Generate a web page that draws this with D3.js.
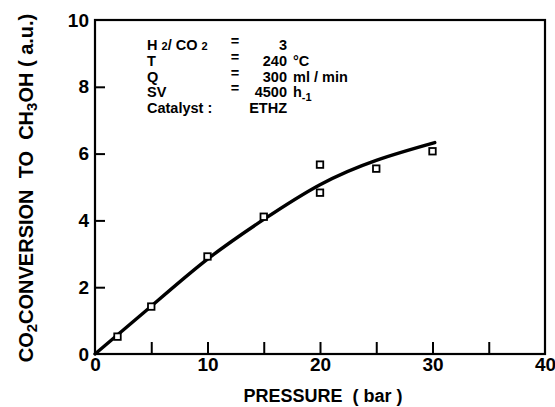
<!DOCTYPE html>
<html>
<head>
<meta charset="utf-8">
<script src="https://cdn.jsdelivr.net/npm/d3@7"></script>
<style>
  html, body { margin: 0; padding: 0; background: #fff; }
  svg { display: block; }
  text { font-family: "Liberation Sans", Arial, Helvetica, sans-serif; font-weight: bold; fill: #000; }
</style>
</head>
<body>
<svg id="chart" width="555" height="407"></svg>
<script>
// Measured data points (pressure in bar, CO2 conversion to CH3OH in a.u.)
const pointPressure = [2, 5, 10, 15, 20, 20, 25, 30];
const pointConversion = [0.52, 1.42, 2.92, 4.11, 5.67, 4.83, 5.55, 6.07];

// Fitted trend curve
const curvePressure = [0, 5, 10, 15, 20, 25, 30.2];
const curveConversion = [0, 1.43, 2.84, 4.03, 5.07, 5.80, 6.33];

// Axis ticks
const xTicks = [0, 5, 10, 15, 20, 25, 30, 35, 40];
const xLabels = [0, 10, 20, 30, 40];
const yTicks = [0, 2, 4, 6, 8, 10];

// Conditions annotation
const condNames = ["T", "Q", "SV"];
const condValues = ["240", "300", "4500"];

(function () {
const svg = d3.select("#chart");
const pl = 95, pr = 545, pt = 20, pb = 354;

const x = d3.scaleLinear().domain([0, 40]).range([pl, pr]);
const y = d3.scaleLinear().domain([0, 10]).range([pb, pt]);

// Frame
svg.append("rect")
  .attr("x", pl).attr("y", pt)
  .attr("width", pr - pl).attr("height", pb - pt)
  .attr("fill", "none").attr("stroke", "#000").attr("stroke-width", 2.2);

// Bottom axis (inward ticks)
const xAxis = d3.axisBottom(x)
  .tickValues(xTicks)
  .tickSizeInner(-12).tickSizeOuter(0)
  .tickPadding(4)
  .tickFormat(d => xLabels.includes(d) ? d : "");
const gx = svg.append("g").attr("transform", `translate(0,${pb})`).call(xAxis);
gx.select(".domain").remove();
gx.selectAll(".tick line").attr("stroke", "#000").attr("stroke-width", 2)
  .attr("display", d => (d === 0 || d === 40) ? "none" : null);
gx.selectAll(".tick text").attr("font-size", 19).attr("fill", "#000");
gx.attr("font-family", null).attr("font-size", null);

// Left axis (inward ticks)
const yAxis = d3.axisLeft(y)
  .tickValues(yTicks)
  .tickSizeInner(-10).tickSizeOuter(0)
  .tickPadding(6)
  .tickFormat(d => d);
const gy = svg.append("g").attr("transform", `translate(${pl},0)`).call(yAxis);
gy.select(".domain").remove();
gy.selectAll(".tick line").attr("stroke", "#000").attr("stroke-width", 2)
  .attr("display", d => (d === 0 || d === 10) ? "none" : null);
gy.selectAll(".tick text").attr("font-size", 19).attr("fill", "#000");
gy.attr("font-family", null).attr("font-size", null);

// Curve
const curveData = curvePressure.map((p, i) => [p, curveConversion[i]]);
svg.append("path")
  .datum(curveData)
  .attr("fill", "none").attr("stroke", "#000").attr("stroke-width", 3.4)
  .attr("stroke-linecap", "round")
  .attr("d", d3.line().x(d => x(d[0])).y(d => y(d[1])).curve(d3.curveNatural));

// Points (open squares)
const pts = pointPressure.map((p, i) => [p, pointConversion[i]]);
const s = 6.5;
svg.append("g").selectAll("rect").data(pts).join("rect")
  .attr("x", d => x(d[0]) - s / 2).attr("y", d => y(d[1]) - s / 2)
  .attr("width", s).attr("height", s)
  .attr("fill", "#fff").attr("stroke", "#000").attr("stroke-width", 1.8);

// Axis titles
svg.append("text")
  .attr("x", 323).attr("y", 402)
  .attr("text-anchor", "middle").attr("font-size", 18)
  .attr("xml:space", "preserve")
  .text("PRESSURE  ( bar )");

const yt = svg.append("text")
  .attr("transform", "translate(33,188) rotate(-90)")
  .attr("text-anchor", "middle").attr("font-size", 20)
  .attr("xml:space", "preserve");
yt.append("tspan").text("CO");
yt.append("tspan").attr("font-size", 15).attr("dy", 4).text("2");
yt.append("tspan").attr("dy", -4).text("CONVERSION  TO  CH");
yt.append("tspan").attr("font-size", 15).attr("dy", 4).text("3");
yt.append("tspan").attr("dy", -4).text("OH ( a.u.)");

// Conditions annotation
const ann = svg.append("g").attr("font-size", 14.5);
const nameX = 147, eqX = 235, valX = 287, unitX = 293;
const rowY = [50, 65.7, 81.5, 97.2, 113];

const h = ann.append("text").attr("x", nameX).attr("y", rowY[0]).attr("xml:space", "preserve");
h.append("tspan").text("H ");
h.append("tspan").attr("font-size", 11).text("2");
h.append("tspan").text("/ CO ");
h.append("tspan").attr("font-size", 11).text("2");

condNames.forEach((n, i) => {
  ann.append("text").attr("x", nameX).attr("y", rowY[i + 1]).text(n);
});
ann.append("text").attr("x", nameX).attr("y", rowY[4]).text("Catalyst :");

[0, 1, 2, 3].forEach(i => {
  ann.append("text").attr("x", eqX).attr("y", rowY[i] - 4).attr("text-anchor", "middle").text("=");
});

ann.append("text").attr("x", valX).attr("y", rowY[0]).attr("text-anchor", "end").text("3");
condValues.forEach((v, i) => {
  ann.append("text").attr("x", valX).attr("y", rowY[i + 1]).attr("text-anchor", "end").text(v);
});
ann.append("text").attr("x", valX).attr("y", rowY[4]).attr("text-anchor", "end").text("ETHZ");

ann.append("text").attr("x", unitX).attr("y", rowY[1]).text("°C");
ann.append("text").attr("x", unitX).attr("y", rowY[2]).text("ml / min");
const hu = ann.append("text").attr("x", unitX).attr("y", rowY[3]);
hu.append("tspan").text("h");
hu.append("tspan").attr("font-size", 11).attr("dy", 4).text("-1");
})();
</script>
</body>
</html>
